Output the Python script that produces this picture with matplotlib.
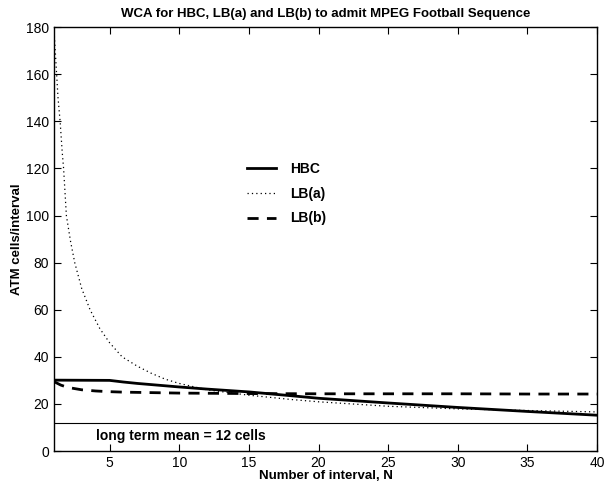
import matplotlib
matplotlib.use("Agg")
import matplotlib.pyplot as plt

plt.rcParams['font.family'] = ['Liberation Sans', 'DejaVu Sans']

# HBC
n_hbc = [1, 5, 6, 7, 8, 9, 10, 12, 15, 18, 20, 25, 30, 35, 40]
hbc = [30.1, 30.0, 29.3, 28.7, 28.2, 27.7, 27.2, 26.3, 25.1, 23.5, 22.4, 20.4, 18.5, 16.8, 15.2]

# LB(a)
n_lba = [1, 1.1, 1.2, 1.3, 1.45, 1.6, 1.7, 1.9, 2.2, 2.5, 3.0, 3.6, 4.3, 5.0, 5.9,
         7, 8, 9, 10, 12, 15, 18, 20, 25, 30, 35, 40]
lba = [180, 170, 160, 150, 140, 127, 120, 100, 89, 80, 69, 60, 52, 46, 40,
       36, 33, 30.5, 28.7, 26.0, 23.7, 21.9, 20.9, 19.0, 17.9, 17.2, 16.6]

# LB(b)
n_lbb = [1, 1.5, 2, 3, 4, 5, 6, 8, 10, 15, 20, 25, 30, 35, 40]
lbb = [29.5, 28.0, 27.0, 26.0, 25.5, 25.2, 25.0, 24.8, 24.6, 24.4, 24.3, 24.3, 24.3, 24.2, 24.2]

mean_rate = 12

fig = plt.figure(figsize=(6.05, 4.86), dpi=100)
ax = fig.add_axes([0.089, 0.072, 0.898, 0.872])

ax.plot(n_hbc, hbc, color='black', lw=2.0, label='HBC')
ax.plot(n_lba, lba, color='black', lw=0.9, linestyle=(0, (1, 2.5)), label='LB(a)')
ax.plot(n_lbb, lbb, color='black', lw=2.0, linestyle=(0, (4, 3)), label='LB(b)')
ax.axhline(mean_rate, color='black', lw=0.8)
ax.text(4, 4.5, 'long term mean = %d cells' % mean_rate, fontsize=10, fontweight='bold')

ax.set_xlim(1, 40)
ax.set_ylim(0, 180)
ax.set_xticks(range(5, 41, 5))
ax.set_yticks(range(0, 181, 20))
ax.tick_params(direction='in', top=True, right=True, labelsize=10, length=5)
for s in ax.spines.values():
    s.set_linewidth(1.0)

ax.set_title('WCA for HBC, LB(a) and LB(b) to admit MPEG Football Sequence',
             fontsize=9.5, fontweight='bold', pad=7)
ax.set_xlabel('Number of interval, N', fontsize=9.5, fontweight='bold', labelpad=0)
ax.set_ylabel('ATM cells/interval', fontsize=9.5, fontweight='bold', labelpad=2)

leg = ax.legend(loc='upper left', bbox_to_anchor=(0.332, 0.712), frameon=False,
                handlelength=2.1, handletextpad=1.0, labelspacing=0.78,
                prop={'weight': 'bold', 'size': 10})

fig.savefig('out.png', dpi=100)
